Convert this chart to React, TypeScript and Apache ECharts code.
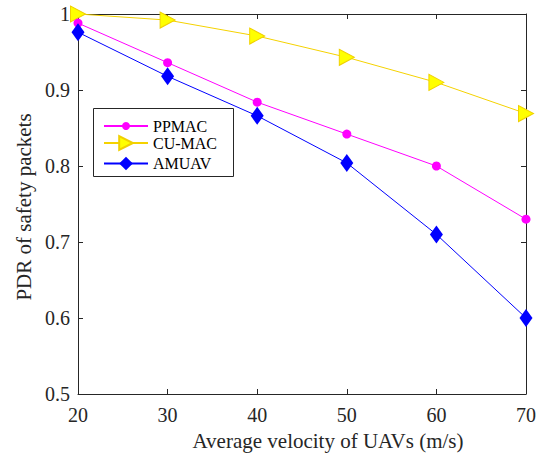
import React, { useEffect, useRef } from "react";
import * as echarts from "echarts";

const velocities = [20, 30, 40, 50, 60, 70];
const ppmac = [0.988, 0.936, 0.884, 0.842, 0.8, 0.73];
const cumac = [1.0, 0.992, 0.971, 0.943, 0.91, 0.869];
const amuav = [0.976, 0.918, 0.866, 0.804, 0.71, 0.6];
const seriesNames = ["PPMAC", "CU-MAC", "AMUAV"];

const FONT = "'Liberation Serif', 'Times New Roman', serif";
const AXIS_COLOR = "#262626";

export default function App() {
  const ref = useRef<HTMLDivElement>(null);
  useEffect(() => {
    if (!ref.current) return;
    const chart = echarts.init(ref.current, undefined, { renderer: "svg" });
    const pair = (ys: number[]) => velocities.map((x, i) => [x, ys[i]]);
    const commonX = {
      type: "value" as const,
      min: 20,
      max: 70,
      interval: 10,
      axisLine: { show: true, onZero: false, lineStyle: { color: AXIS_COLOR, width: 1 } },
      axisTick: { show: true, inside: true, length: 5, lineStyle: { color: AXIS_COLOR } },
      splitLine: { show: false },
    };
    const commonY = {
      type: "value" as const,
      min: 0.5,
      max: 1,
      interval: 0.1,
      axisLine: { show: true, onZero: false, lineStyle: { color: AXIS_COLOR, width: 1 } },
      axisTick: { show: true, inside: true, length: 5, lineStyle: { color: AXIS_COLOR } },
      splitLine: { show: false },
    };
    const legendRow = (name: string, centerY: number, h: number) => ({
      orient: "horizontal",
      left: 103,
      top: centerY - h / 2,
      padding: 0,
      itemWidth: 44,
      itemHeight: h,
      itemGap: 5,
      selectedMode: false,
      textStyle: { fontFamily: FONT, fontSize: 16, lineHeight: 16, color: "#000000" },
      data: [name],
      z: 10,
    });
    chart.setOption({
      animation: false,
      backgroundColor: "#ffffff",
      textStyle: { fontFamily: FONT },
      grid: { left: 78, top: 14, right: 23, bottom: 59, containLabel: false },
      xAxis: [
        {
          ...commonX,
          position: "bottom",
          name: "Average velocity of UAVs (m/s)",
          nameLocation: "middle",
          nameGap: 36,
          nameTextStyle: { fontFamily: FONT, fontSize: 21, color: "#262626", padding: [0, 0, 0, 52] },
          axisLabel: { fontFamily: FONT, fontSize: 20, color: "#262626", margin: 11 },
        },
        {
          ...commonX,
          position: "top",
          axisLabel: { show: false },
        },
      ],
      yAxis: [
        {
          ...commonY,
          position: "left",
          name: "PDR of safety packets",
          nameLocation: "middle",
          nameGap: 40,
          nameTextStyle: { fontFamily: FONT, fontSize: 21, color: "#262626", padding: [0, 6, 0, 0] },
          axisLabel: {
            fontFamily: FONT,
            fontSize: 20,
            color: "#262626",
            margin: 8,
            formatter: (v: number) => (Math.abs(v - 1) < 1e-9 ? "1" : v.toFixed(1)),
          },
        },
        {
          ...commonY,
          position: "right",
          axisLabel: { show: false },
        },
      ],
      graphic: [
        {
          type: "rect",
          shape: { x: 93.5, y: 108.5, width: 140, height: 68 },
          style: { fill: "#ffffff", stroke: "#262626", lineWidth: 1 },
          z: 5,
        },
      ],
      legend: [
        legendRow(seriesNames[0], 123, 10),
        legendRow(seriesNames[1], 143.5, 17),
        legendRow(seriesNames[2], 164, 17),
      ],
      series: [
        {
          name: seriesNames[0],
          type: "line",
          data: pair(ppmac),
          symbol: "circle",
          symbolSize: 9,
          lineStyle: { color: "#ff00ff", width: 1 },
          itemStyle: { color: "#ff00ff" },
          z: 3,
        },
        {
          name: seriesNames[1],
          type: "line",
          data: pair(cumac),
          symbol: "triangle",
          symbolRotate: -90,
          symbolSize: [16, 15],
          lineStyle: { color: "#f5d200", width: 1 },
          itemStyle: { color: "#ffff00", borderColor: "#f0d000", borderWidth: 1 },
          z: 2,
        },
        {
          name: seriesNames[2],
          type: "line",
          data: pair(amuav),
          symbol: "diamond",
          symbolSize: [13, 18],
          lineStyle: { color: "#0000ff", width: 1 },
          itemStyle: { color: "#0000ff" },
          z: 4,
        },
      ],
    });
    return () => chart.dispose();
  }, []);
  return <div ref={ref} style={{ width: 549, height: 456, position: "absolute", left: 0, top: 0 }} />;
}
